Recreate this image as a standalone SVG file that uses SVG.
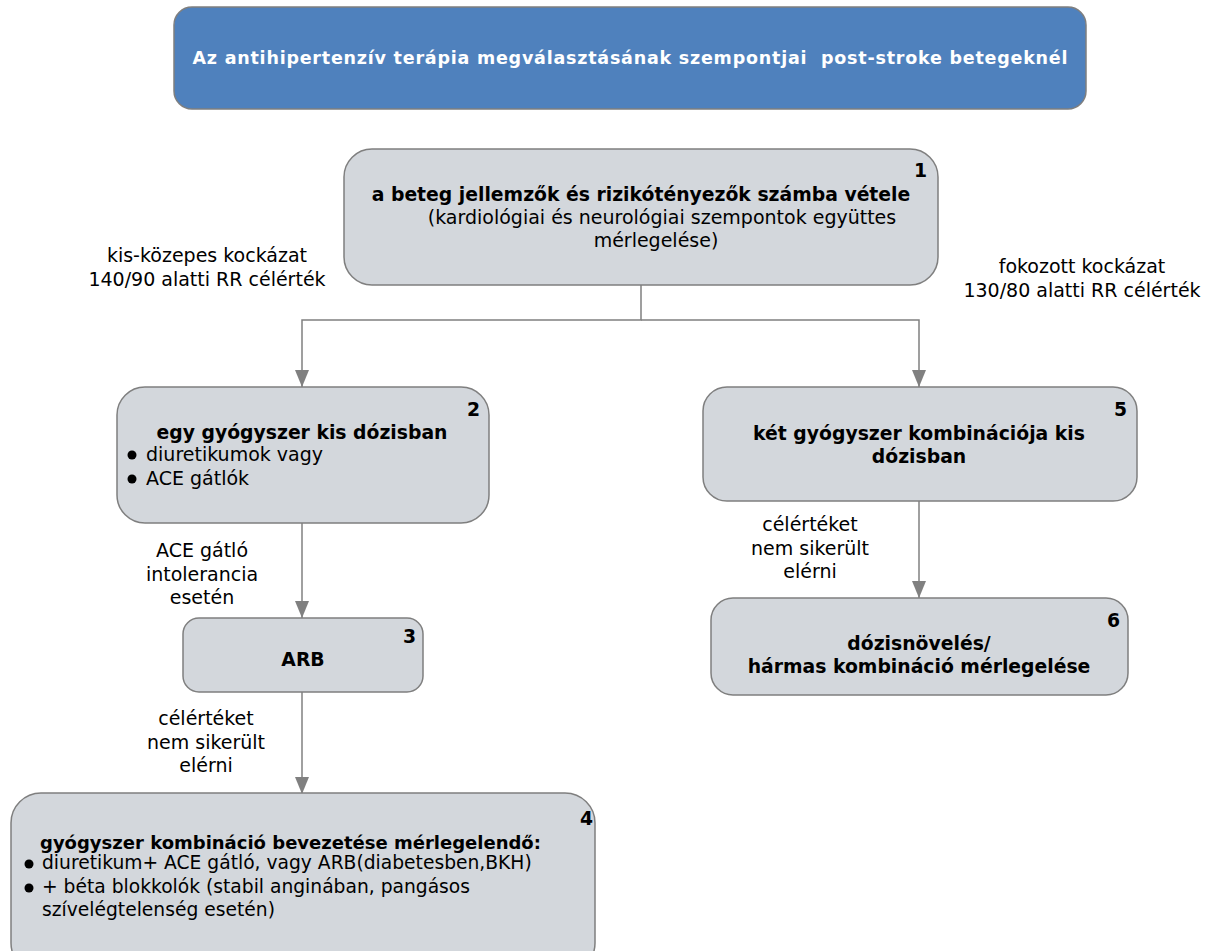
<svg xmlns="http://www.w3.org/2000/svg" width="1210" height="951" viewBox="0 0 1210 951">
  <style>
    .box { fill: #D3D7DC; stroke: #7F7F7F; stroke-width: 1.5; }
    .title { fill: #4F81BD; stroke: #7F7F7F; stroke-width: 1.5; }
    .t { font-family: "DejaVu Sans", Verdana, sans-serif; font-size: 19px; fill: #000; }
    .b { font-family: "DejaVu Sans", Verdana, sans-serif; font-size: 18.8px; font-weight: bold; fill: #000; }
    .s { font-size: 18.7px; }
    .sb { font-size: 18px; }
    .c { text-anchor: middle; }
    .e { text-anchor: end; }
    .tt { font-family: "DejaVu Sans", Verdana, sans-serif; font-size: 17.5px; font-weight: bold; fill: #fff; text-anchor: middle; }
    .edge { fill: none; stroke: #808080; stroke-width: 1.5; }
  </style>
  <defs>
    <!-- filled grey arrowhead, pointing along the path direction -->
    <marker id="arrow" viewBox="0 0 17 14" refX="17" refY="7" markerWidth="17" markerHeight="14" markerUnits="userSpaceOnUse" orient="auto">
      <path d="M0 0 L17 7 L0 14 Z" fill="#808080"/>
    </marker>
  </defs>

  <rect width="1210" height="951" fill="#fff"/>

  <g id="title">
    <rect class="title" x="174" y="7" width="912" height="102" rx="18"/>
    <text class="tt" x="630" y="64" xml:space="preserve" textLength="875" lengthAdjust="spacing">Az antihipertenzív terápia megválasztásának szempontjai  post-stroke betegeknél</text>
  </g>

  <g id="connectors">
    <path class="edge" d="M641 285 V320 H302 V387" marker-end="url(#arrow)"/>
    <path class="edge" d="M641 320 H919 V387" marker-end="url(#arrow)"/>
    <line x1="302" y1="523" x2="302" y2="618" class="edge" marker-end="url(#arrow)"/>
    <line x1="302" y1="692" x2="302" y2="794" class="edge" marker-end="url(#arrow)"/>
    <line x1="919" y1="501" x2="919" y2="598" class="edge" marker-end="url(#arrow)"/>
  </g>

  <g id="labels">
    <text class="t c" x="207" y="262">kis-közepes kockázat</text>
    <text class="t c" x="207" y="286">140/90 alatti RR célérték</text>
    <text class="t c" x="1082" y="273">fokozott kockázat</text>
    <text class="t c" x="1082" y="297">130/80 alatti RR célérték</text>
    <text class="t c" x="202" y="557">ACE gátló</text>
    <text class="t c" x="202" y="581">intolerancia</text>
    <text class="t c" x="202" y="604">esetén</text>
    <text class="t c" x="206" y="725">célértéket</text>
    <text class="t c" x="206" y="749">nem sikerült</text>
    <text class="t c" x="206" y="772">elérni</text>
    <text class="t c" x="810" y="531">célértéket</text>
    <text class="t c" x="810" y="555">nem sikerült</text>
    <text class="t c" x="810" y="578">elérni</text>
  </g>

  <g id="node1">
    <rect class="box" x="344" y="149" width="594" height="136" rx="28"/>
    <text class="b e" x="927" y="177">1</text>
    <text class="b c" x="641" y="201">a beteg jellemzők és rizikótényezők számba vétele</text>
    <text class="t c" x="662" y="224">(kardiológiai és neurológiai szempontok együttes</text>
    <text class="t c" x="656" y="247">mérlegelése)</text>
  </g>

  <g id="node2">
    <rect class="box" x="117" y="387" width="372" height="136" rx="28"/>
    <text class="b e" x="480" y="416">2</text>
    <text class="b c" x="302" y="439">egy gyógyszer kis dózisban</text>
    <circle cx="132" cy="455" r="4.5"/>
    <text class="t" x="146" y="461">diuretikumok vagy</text>
    <circle cx="132" cy="479" r="4.5"/>
    <text class="t" x="146" y="485">ACE gátlók</text>
  </g>

  <g id="node3">
    <rect class="box" x="183" y="618" width="240" height="74" rx="16"/>
    <text class="b e" x="416" y="643">3</text>
    <text class="b c" x="303" y="666">ARB</text>
  </g>

  <g id="node4">
    <rect class="box" x="11" y="793" width="584" height="180" rx="30"/>
    <text class="b e" x="593" y="825">4</text>
    <text class="b sb" x="40" y="849">gyógyszer kombináció bevezetése mérlegelendő:</text>
    <circle cx="29" cy="864" r="4.5"/>
    <text class="t s" x="42" y="869">diuretikum+ ACE gátló, vagy ARB(diabetesben,BKH)</text>
    <circle cx="29" cy="888" r="4.5"/>
    <text class="t s" x="42" y="893">+ béta blokkolók (stabil anginában, pangásos</text>
    <text class="t s" x="42" y="916">szívelégtelenség esetén)</text>
  </g>

  <g id="node5">
    <rect class="box" x="703" y="387" width="434" height="114" rx="24"/>
    <text class="b e" x="1127" y="416">5</text>
    <text class="b c" x="919" y="440">két gyógyszer kombinációja kis</text>
    <text class="b c" x="919" y="463">dózisban</text>
  </g>

  <g id="node6">
    <rect class="box" x="711" y="598" width="417" height="97" rx="22"/>
    <text class="b e" x="1120" y="627">6</text>
    <text class="b c" x="919" y="650">dózisnövelés/</text>
    <text class="b c" x="919" y="673">hármas kombináció mérlegelése</text>
  </g>
</svg>
